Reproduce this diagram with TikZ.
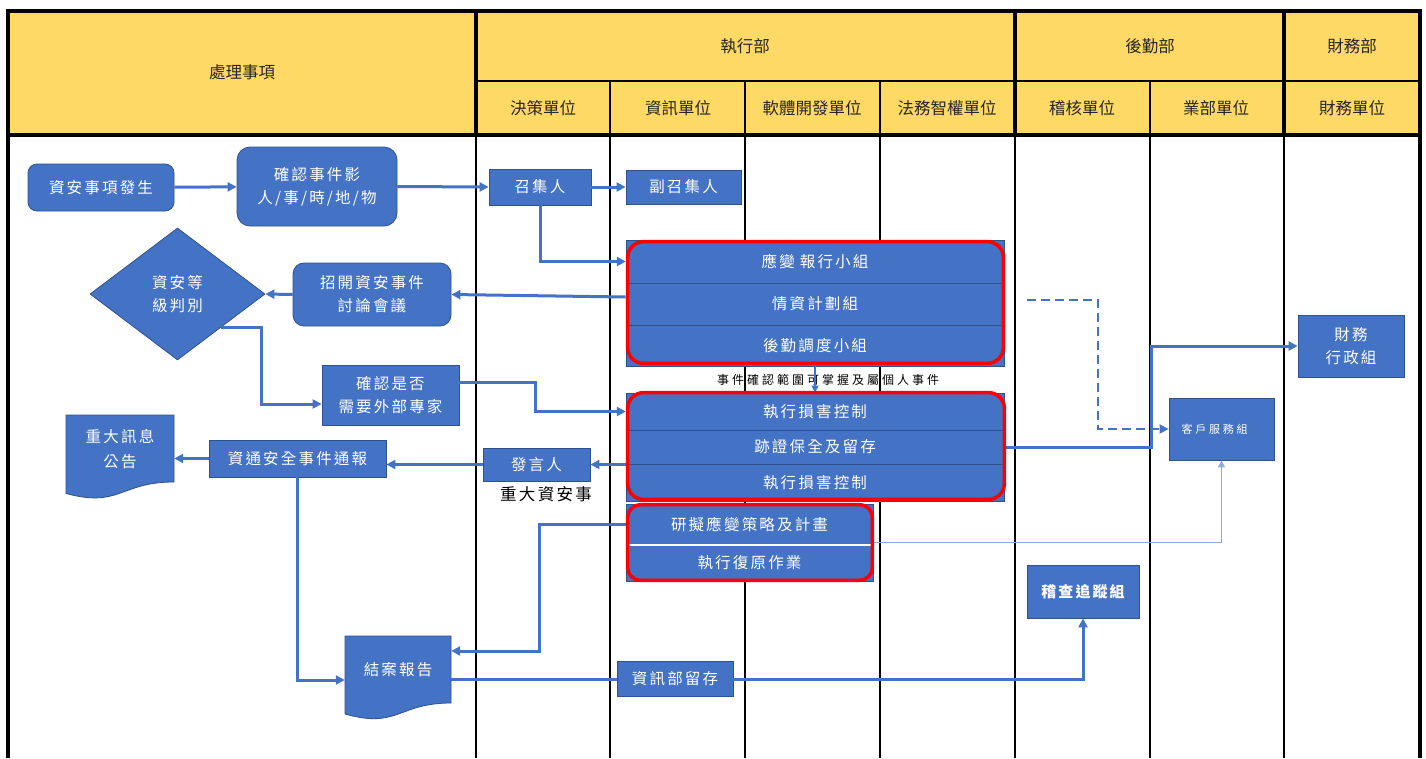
\documentclass[tikz,border=0pt]{standalone}
\usepackage{fontspec}
\setmainfont{Noto Sans CJK TC}
\newfontfamily\bxf[LetterSpace=14]{Noto Sans CJK TC}
\newfontfamily\ntf[LetterSpace=25]{Noto Sans CJK TC}
\newfontfamily\hdf{Noto Sans CJK TC}
\usetikzlibrary{shapes.geometric,arrows.meta,calc}
\definecolor{hdr}{HTML}{FFD966}
\definecolor{bl}{HTML}{4472C4}
\definecolor{bd}{HTML}{2F528F}
\definecolor{lb}{HTML}{8FAADC}
\begin{document}
\begin{tikzpicture}[x=1pt,y=-1pt,
  box/.style={draw=bd, line width=0.8pt, fill=bl, text=white, inner sep=0pt, align=center,
    font=\bxf\fontsize{15.5}{23}\selectfont},
  rbox/.style={box, rounded corners=9pt},
  rowt/.style={inner sep=0pt, text=white, align=center, font=\bxf\fontsize{15.5}{23}\selectfont},
  doct/.style={inner sep=0pt, text=white, align=center, font=\bxf\fontsize{15.5}{25}\selectfont},
  hcell/.style={inner sep=0pt, text=black!85, font=\hdf\fontsize{16.5}{20}\selectfont},
  conn/.style={draw=bl, line width=3pt, -{Triangle[length=9pt,width=9pt]}},
  thinconn/.style={draw=bl, line width=1.3pt, -{Triangle[length=7pt,width=7pt]}},
  dashconn/.style={draw=bl, line width=1.8pt, dash pattern=on 9pt off 5pt, -{Triangle[length=9pt,width=9pt]}},
  redframe/.style={draw=red, line width=3.5pt, rounded corners=16pt},
  divl/.style={draw=bd, line width=1pt}
]
\useasboundingbox (0,0) rectangle (1426,758);
\fill[white] (0,0) rectangle (1426,758);
% header background
\fill[hdr] (8,11) rectangle (1420,135);
% body column lines
\foreach \x in {476,610,745,880,1015,1150,1284} \draw[line width=2pt] (\x,135) -- (\x,758);
% header grid
\draw[line width=1.5pt] (476,81) -- (1420,81);
\foreach \x in {610,745,880} \draw[line width=1.5pt] (\x,81) -- (\x,135);
\draw[line width=2.5pt] (1150,81) -- (1150,135);
\foreach \x in {476,1015,1284} \draw[line width=3.5pt] (\x,11) -- (\x,135);
\draw[line width=4pt] (8,135) -- (1420,135);
\draw[line width=3.5pt] (8,758) -- (8,11) -- (1420,11) -- (1420,758);
% header texts
\node[hcell] (hA) at (242,72) {處理事項};
\node[hcell] (hB) at (745,46) {執行部};
\node[hcell] (hC) at (1150,46) {後勤部};
\node[hcell] (hD) at (1352,46) {財務部};
\node[hcell] (s1) at (543,108) {決策單位};
\node[hcell] (s2) at (678,108) {資訊單位};
\node[hcell] (s3) at (812,108) {軟體開發單位};
\node[hcell] (s4) at (947,108) {法務智權單位};
\node[hcell] (s5) at (1082,108) {稽核單位};
\node[hcell] (s6) at (1216,108) {業部單位};
\node[hcell] (s7) at (1352,108) {財務單位};

% note text between groups
\node[inner sep=0pt, text=black, font=\ntf\fontsize{12}{14}\selectfont] (note) at (828,380) {事件確認範圍可掌握及屬個人事件};

% nodes
\node[rbox, minimum width=146, minimum height=47] (n1) at (101,187.5) {資安事項發生};
\node[rbox, rounded corners=13pt, minimum width=160, minimum height=79] (n2) at (317,186.5) {確認事件影\\人/事/時/地/物};
\node[box, minimum width=102, minimum height=36] (conv) at (540,187) {召集人};
\node[box, minimum width=115, minimum height=34] (vconv) at (683.5,187) {副召集人};

% group 1
\node[box, minimum width=378, minimum height=126] (g1) at (815,303) {};
\node[rowt, minimum width=378, minimum height=43] (r1a) at (815,261.5) {應變\hspace{5pt}報行小組};
\node[rowt, minimum width=378, minimum height=42] (r1b) at (815,304) {情資計劃組};
\node[rowt, minimum width=378, minimum height=41] (r1c) at (815,345.5) {後勤調度小組};
\draw[divl] (r1a.south west) -- (r1a.south east);
\draw[divl] (r1b.south west) -- (r1b.south east);

% group 2
\node[box, minimum width=378, minimum height=108] (g2) at (815,447) {};
\node[rowt, minimum width=378, minimum height=37] (r2a) at (815,411.5) {執行損害控制};
\node[rowt, minimum width=378, minimum height=34] (r2b) at (815,447) {跡證保全及留存};
\node[rowt, minimum width=378, minimum height=37] (r2c) at (815,482.5) {執行損害控制};
\draw[divl] (r2a.south west) -- (r2a.south east);
\draw[divl] (r2b.south west) -- (r2b.south east);

% group 3
\node[box, minimum width=247, minimum height=77] (g3) at (749.5,542.5) {};
\node[rowt, minimum width=247, minimum height=41] (r3a) at (749.5,524.5) {研擬應變策略及計畫};
\node[rowt, minimum width=247, minimum height=36] (r3b) at (749.5,563) {執行復原作業};
\draw[white, line width=2pt] (r3a.south west) -- (r3a.south east);

\node[rbox, rounded corners=11pt, minimum width=158, minimum height=63] (meet) at (372,294.5) {招開資安事件\\討論會議};
\node[diamond, aspect=1.33, draw=bd, line width=0.8pt, fill=bl, text=white, inner sep=0pt, align=center,
  minimum width=175, minimum height=132, font=\bxf\fontsize{15.5}{23}\selectfont] (dia) at (177.5,294) {資安等\\級判別};
\node[box, minimum width=137, minimum height=60] (ext) at (390.5,395) {確認是否\\需要外部專家};
\node[box, minimum width=107, minimum height=33] (spk) at (536.5,464.5) {發言人};
\node[inner sep=0pt, text=black, font=\bxf\fontsize{16.5}{18}\selectfont] (spklab) at (546,494) {重大資安事};
\node[box, minimum width=177, minimum height=37] (rpt) at (297.5,458.5) {資通安全事件通報};

% document shapes
\filldraw[fill=bl, draw=bd, line width=0.8pt] (66,415) -- (174,415) -- (174,482) .. controls (120,482) and (120,508) .. (66,493.5) -- cycle;
\node[doct, minimum width=108, minimum height=68] (ann) at (120,449) {重大訊息\\公告};
\filldraw[fill=bl, draw=bd, line width=0.8pt] (345,636) -- (451,636) -- (451,703) .. controls (398,703) and (398,729) .. (345,714) -- cycle;
\node[doct, minimum width=106, minimum height=68] (close) at (398,670) {結案報告};

\node[box, minimum width=116, minimum height=35] (keep) at (675,679) {資訊部留存};
\node[box, minimum width=112, minimum height=53, font=\bxf\bfseries\fontsize{15}{20}\selectfont] (audit) at (1083,591.5) {稽查追蹤組};
\node[box, minimum width=105, minimum height=62, font=\ntf\fontsize{11}{14}\selectfont] (cs) at (1221.5,429) {客戶服務組\hspace*{14pt}};
\node[box, minimum width=106, minimum height=62] (fin) at (1351,346) {財務\\行政組};

\coordinate (dstart) at (1027,300);

% connectors
\draw[conn] (n1) -- (n2);
\draw[conn] (n2.east) -- (conv.west);
\draw[conn] (conv) -- (vconv);
\draw[conn] (conv.south) |- (r1a.west);
\draw[conn] ($(g1.west)+(0,-6)$) -- (meet.east);
\draw[conn] (meet.west) -- (dia.east);
\draw[conn] (dia.south east) -- ++(40,0) |- ($(ext.west)+(0,9)$);
\draw[conn] ($(ext.east)+(0,-13)$) -- ++(76,0) |- (r2a.west);
\draw[conn] (g2.west |- spk.east) -- (spk.east);
\draw[conn] (spk.west) -- (spk.west -| rpt.east);
\draw[conn] (rpt.west) -- (rpt.west -| ann.east);
\draw[conn] (rpt.south) |- ($(close.west)+(0,10)$);
\draw[conn] (r3a.west) -- ++(-86,0) |- ($(close.east)+(0,-19)$);
\draw[draw=bl, line width=3pt] (close.east |- keep.west) -- (keep.west);
\draw[conn] (keep.east) -| (audit.south);
\draw[conn] (r2b.east) -- ++(147,0) |- (fin.west);
\draw[dashconn] (dstart) -- ++(71,0) |- (cs.west);
\draw[draw=lb, line width=1.3pt, -{Triangle[length=7pt,width=7pt]}] (g3.east) -| (cs.south);
\draw[thinconn] (g1.south) -- (g2.north);

% red frames
\draw[redframe] ($(g1.north west)+(2,2)$) rectangle ($(g1.south east)+(-1,-3)$);
\draw[redframe] ($(g2.north west)+(2,0)$) rectangle ($(g2.south east)+(0,-2)$);
\draw[redframe, rounded corners=13pt] ($(g3.north west)+(2,1)$) rectangle ($(g3.south east)+(-1,-1)$);
\end{tikzpicture}
\end{document}
